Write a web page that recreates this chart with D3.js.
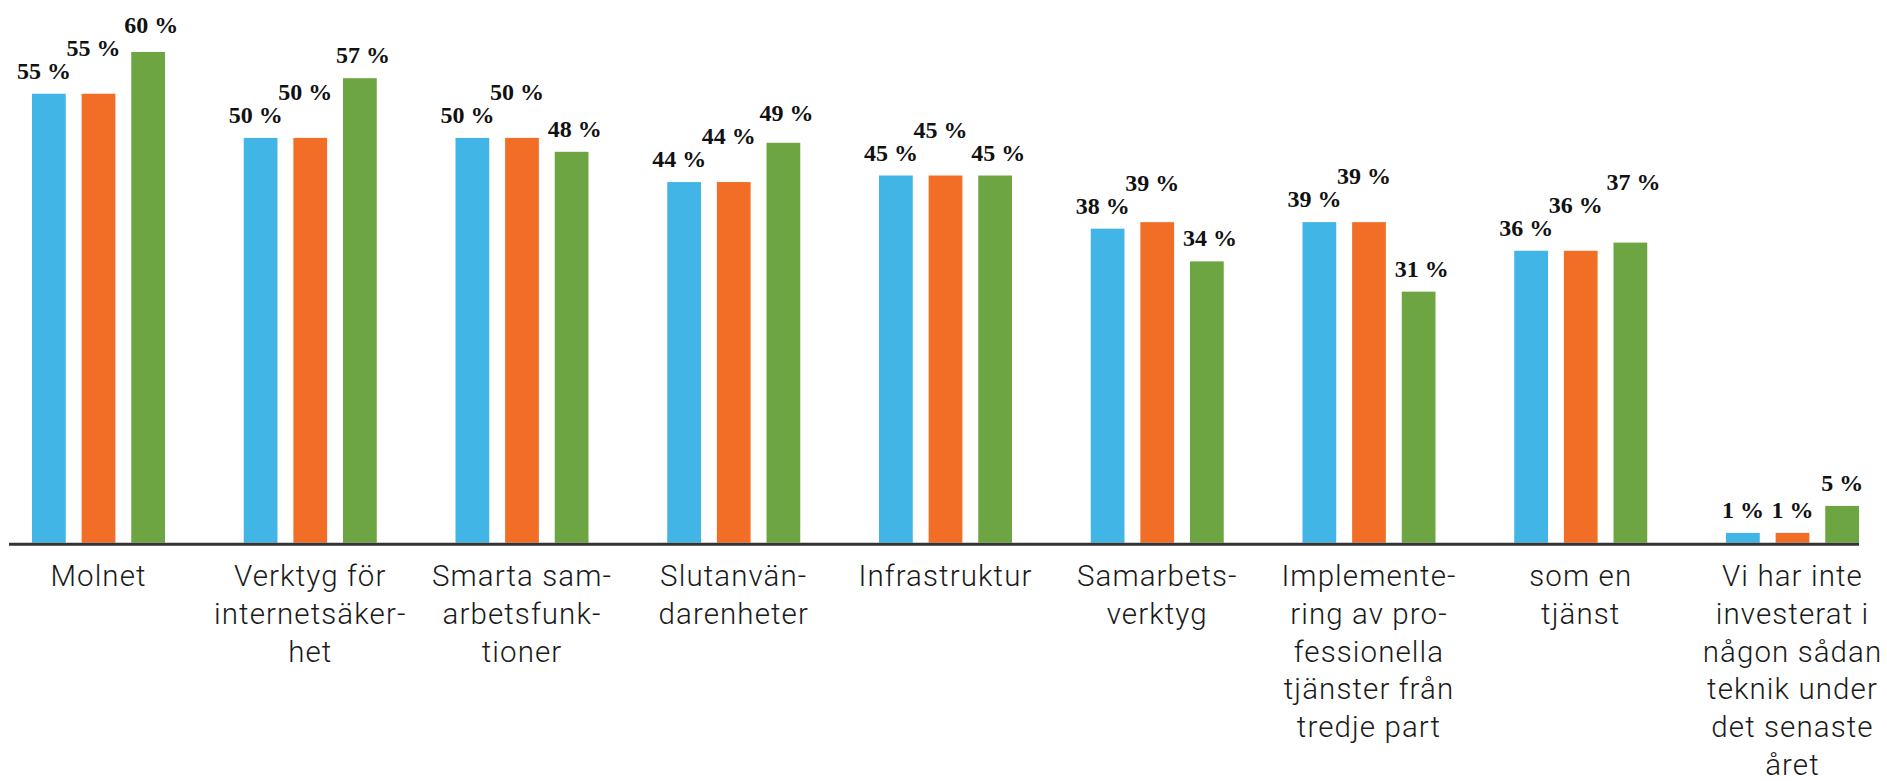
<!DOCTYPE html>
<html>
<head>
<meta charset="utf-8">
<script src="https://cdn.jsdelivr.net/npm/d3@7"></script>
<style>
  html, body { margin: 0; padding: 0; background: #ffffff; }
  svg { display: block; }
</style>
</head>
<body>
<svg id="chart" width="1887" height="781"></svg>
<script>
// ---- data ----
const categories = [
  "Molnet",
  "Verktyg för internetsäkerhet",
  "Smarta samarbetsfunktioner",
  "Slutanvändarenheter",
  "Infrastruktur",
  "Samarbetsverktyg",
  "Implementering av professionella tjänster från tredje part",
  "som en tjänst",
  "Vi har inte investerat i någon sådan teknik under det senaste året"
];
const categoryLines = [
  ["Molnet"],
  ["Verktyg för", "internetsäker-", "het"],
  ["Smarta sam-", "arbetsfunk-", "tioner"],
  ["Slutanvän-", "darenheter"],
  ["Infrastruktur"],
  ["Samarbets-", "verktyg"],
  ["Implemente-", "ring av pro-", "fessionella", "tjänster från", "tredje part"],
  ["som en", "tjänst"],
  ["Vi har inte", "investerat i", "någon sådan", "teknik under", "det senaste", "året"]
];
const seriesNames = ["Serie 1", "Serie 2", "Serie 3"];
const series1 = [54.9, 49.5, 49.5, 44.1, 44.9, 38.4, 39.2, 35.7, 1.2];
const series2 = [54.9, 49.5, 49.5, 44.1, 44.9, 39.2, 39.2, 35.7, 1.2];
const series3 = [60.0, 56.8, 47.8, 48.9, 44.9, 34.4, 30.7, 36.7, 4.5];
const seriesColors = ["#41b5e6", "#f26e27", "#6ca541"];

// ---- layout ----
const baseY = 542.7;
const pxPerPct = 8.178;
const firstCenter = 98.5, lastCenter = 1792.5;
const step = (lastCenter - firstCenter) / (categories.length - 1);
const labelShift = [-5, -5, 3];

const svg = d3.select("#chart");

const x = d3.scaleBand()
  .domain(categories)
  .range([firstCenter - step / 2, lastCenter + step / 2])
  .padding(0);

const groupHalf = 66.5;
const xInner = d3.scaleBand()
  .domain(seriesNames)
  .range([-groupHalf, groupHalf])
  .paddingInner(0.32)
  .paddingOuter(0);

const y = d3.scaleLinear()
  .domain([0, 60])
  .range([baseY, baseY - 60 * pxPerPct]);

const allSeries = [series1, series2, series3];
const rows = categories.map((c, i) => ({
  cat: c,
  lines: categoryLines[i],
  vals: seriesNames.map((s, j) => ({ s, j, v: allSeries[j][i] }))
}));

const groups = svg.append("g").selectAll("g.grp")
  .data(rows)
  .join("g")
  .attr("class", "grp")
  .attr("transform", d => `translate(${x(d.cat) + x.bandwidth() / 2},0)`);

groups.selectAll("rect")
  .data(d => d.vals)
  .join("rect")
  .attr("x", d => xInner(d.s))
  .attr("width", xInner.bandwidth())
  .attr("y", d => y(d.v))
  .attr("height", d => y(0) - y(d.v))
  .attr("fill", d => seriesColors[d.j]);

// axis line
svg.append("line")
  .attr("x1", 9)
  .attr("x2", x(categories[categories.length - 1]) + x.bandwidth() / 2 + xInner(seriesNames[2]) + xInner.bandwidth())
  .attr("y1", baseY + 1.5)
  .attr("y2", baseY + 1.5)
  .attr("stroke", "#333333")
  .attr("stroke-width", 3);

// value labels with simple vertical collision avoidance
const labelGap = 15;
groups.each(function(d) {
  const g = d3.select(this);
  const placed = [];
  d.vals.forEach(v => {
    const cx = xInner(v.s) + xInner.bandwidth() / 2;
    const t = g.append("text")
      .attr("text-anchor", "middle")
      .attr("font-family", "'Liberation Serif', 'Times New Roman', serif")
      .attr("font-weight", "bold")
      .attr("font-size", 24)
      .attr("fill", "#111111")
      .text(Math.round(v.v) + " %");
    let base = y(v.v) - labelGap;
    const w = t.node().getComputedTextLength();
    const h = 17;
    let box = { x0: cx - w / 2, x1: cx + w / 2, y0: base - h, y1: base };
    placed.forEach(p => {
      const hOverlap = box.x0 < p.x1 && p.x0 < box.x1;
      const vOverlap = box.y0 < p.y1 + 2 && p.y0 - 2 < box.y1;
      if (hOverlap && vOverlap) {
        base = p.y1 - 23;
        box = { x0: box.x0, x1: box.x1, y0: base - h, y1: base };
      }
    });
    const dx = w > xInner.step() - 4 ? labelShift[v.j] : 0;
    t.attr("x", cx + dx).attr("y", base);
    placed.push(box);
  });
});

// category labels
const lineH = 37.7;
groups.append("text")
  .attr("text-anchor", "middle")
  .attr("font-family", "Roboto, 'Noto Sans', sans-serif")
  .attr("font-weight", 300)
  .attr("font-size", 29.5)
  .attr("letter-spacing", 1.1)
  .attr("fill", "#1a1a1a")
  .selectAll("tspan")
  .data(d => d.lines)
  .join("tspan")
  .attr("x", 0)
  .attr("y", (l, i) => 586.2 + i * lineH)
  .text(l => l);
</script>
</body>
</html>
